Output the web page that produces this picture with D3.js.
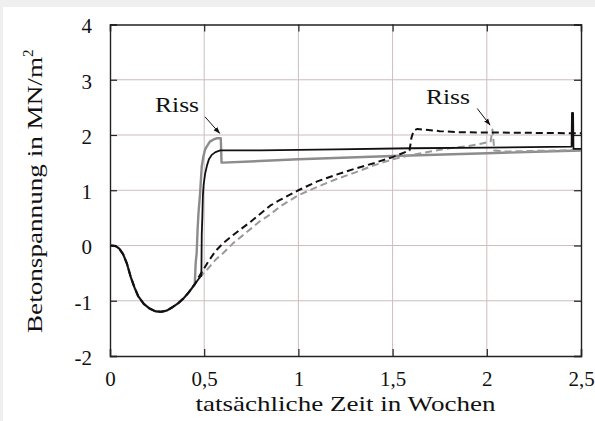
<!DOCTYPE html>
<html>
<head>
<meta charset="utf-8">
<script src="https://cdn.jsdelivr.net/npm/d3@7"></script>
<style>
  html, body { margin: 0; padding: 0; background: #efefef; }
  svg { display: block; }
  text { font-family: "Liberation Serif", "DejaVu Serif", serif; fill: #111; }
</style>
</head>
<body>
<div id="wrapper"></div>
<script>
// shared compression dip at early age (time in weeks, stress in MN/m2)
const dip = [[0,0],[0.03,-0.01],[0.05,-0.06],[0.07,-0.16],[0.09,-0.33],[0.11,-0.57],[0.13,-0.76],[0.15,-0.92],
  [0.18,-1.06],[0.21,-1.14],[0.24,-1.19],[0.27,-1.2],[0.3,-1.18],[0.33,-1.12],[0.36,-1.05],[0.39,-0.96],[0.42,-0.84],[0.45,-0.7]];

const graySolid = [[0.455,-0.3],[0.46,-0.14],[0.465,0.3],[0.47,0.6],[0.478,0.94],[0.487,1.43],[0.495,1.6],[0.504,1.73],
  [0.515,1.8],[0.53,1.88],[0.55,1.92],[0.566,1.94],[0.588,1.94],[0.592,1.5],[0.6,1.5],[1.0,1.56],[1.5,1.62],[2.0,1.67],[2.5,1.72]];

const blackSolid = [[0.48,-0.56],[0.485,-0.55],[0.487,0.2],[0.49,0.5],[0.493,0.9],[0.497,1.1],[0.505,1.3],[0.515,1.45],[0.525,1.56],
  [0.54,1.64],[0.56,1.69],[0.585,1.72],[0.8,1.72],[1.2,1.74],[1.6,1.76],[2.0,1.77],[2.45,1.79],[2.452,2.4],[2.458,2.4],[2.46,1.75],[2.5,1.75]];

const grayDashed = [[0.48,-0.56],[0.52,-0.42],[0.56,-0.26],[0.6,-0.14],[0.65,0.03],[0.7,0.17],[0.75,0.31],[0.8,0.45],[0.85,0.56],
  [0.9,0.7],[1.0,0.91],[1.1,1.06],[1.2,1.2],[1.3,1.32],[1.4,1.45],[1.5,1.56],[1.6,1.64],[1.7,1.7],[1.8,1.76],[1.9,1.8],[1.98,1.85],
  [2.02,1.88],[2.03,2.1],[2.04,1.72],[2.1,1.7],[2.5,1.73]];

const blackDashed = [[0.48,-0.52],[0.52,-0.3],[0.56,-0.1],[0.6,0.04],[0.65,0.18],[0.7,0.31],[0.75,0.44],[0.8,0.58],[0.85,0.72],
  [0.9,0.82],[1.0,1.0],[1.1,1.16],[1.2,1.28],[1.3,1.39],[1.4,1.49],[1.5,1.6],[1.575,1.7],[1.59,1.72],[1.6,1.95],[1.612,2.08],
  [1.632,2.11],[1.66,2.1],[1.75,2.07],[1.85,2.05],[2.2,2.04],[2.5,2.03]];

const xTicks = [0, 0.5, 1, 1.5, 2, 2.5];
const yTicks = [-2, -1, 0, 1, 2, 3, 4];

// "Riss" labels: text anchor point and arrow from -> to (data coords)
const rissLabels = [
  { tx: 0.356, ty: 2.42, from: [0.504, 2.33], to: [0.582, 2.03] },
  { tx: 1.794, ty: 2.56, from: [1.949, 2.48], to: [2.017, 2.18] }
];

const series = [
  { name: "graySolid", data: dip.concat(graySolid), color: "#8c8c8c", width: 2.4, dash: null },
  { name: "grayDashed", data: dip.concat(grayDashed), color: "#9a9a9a", width: 2, dash: "7,4" },
  { name: "blackDashed", data: dip.concat(blackDashed), color: "#111", width: 2, dash: "7,4" },
  { name: "blackSolid", data: dip.concat(blackSolid), color: "#111", width: 1.8, dash: null }
];

const dimensions = {
  width: 595,
  height: 421,
  margin: { top: 24.5, right: 14, bottom: 65, left: 110 }
};
dimensions.boundedWidth = dimensions.width - dimensions.margin.left - dimensions.margin.right;
dimensions.boundedHeight = dimensions.height - dimensions.margin.top - dimensions.margin.bottom;

const xScale = d3.scaleLinear().domain([0, 2.5]).range([0, dimensions.boundedWidth]);
const yScale = d3.scaleLinear().domain([-2, 4]).range([dimensions.boundedHeight, 0]);

const wrapper = d3.select("#wrapper").append("svg")
  .attr("width", dimensions.width)
  .attr("height", dimensions.height);

wrapper.append("rect")
  .attr("x", 3).attr("y", 7)
  .attr("width", dimensions.width - 3).attr("height", dimensions.height - 7)
  .attr("fill", "#fff");

const defs = wrapper.append("defs");
defs.append("marker")
  .attr("id", "arrow")
  .attr("viewBox", "0 0 10 10")
  .attr("refX", 9).attr("refY", 5)
  .attr("markerWidth", 7).attr("markerHeight", 7)
  .attr("orient", "auto")
  .append("path")
  .attr("d", "M0,1.5 L10,5 L0,8.5 Z")
  .attr("fill", "#111");

const bounds = wrapper.append("g")
  .attr("transform", `translate(${dimensions.margin.left},${dimensions.margin.top})`);

// grid
bounds.append("g").selectAll("line").data(xTicks.slice(1, -1)).join("line")
  .attr("x1", d => xScale(d)).attr("x2", d => xScale(d))
  .attr("y1", 0).attr("y2", dimensions.boundedHeight)
  .attr("stroke", "#cdbdbd").attr("stroke-width", 1);
bounds.append("g").selectAll("line").data(yTicks.slice(1, -1)).join("line")
  .attr("y1", d => yScale(d)).attr("y2", d => yScale(d))
  .attr("x1", 0).attr("x2", dimensions.boundedWidth)
  .attr("stroke", "#cdbdbd").attr("stroke-width", 1);

// axes with inward ticks on all four sides
const xAxisBottom = bounds.append("g")
  .attr("transform", `translate(0,${dimensions.boundedHeight})`)
  .call(d3.axisBottom(xScale).tickValues(xTicks).tickSize(-7).tickPadding(15)
    .tickFormat(d => String(d).replace(".", ",")));
const xAxisTop = bounds.append("g")
  .call(d3.axisTop(xScale).tickValues(xTicks).tickSize(-7).tickFormat(""));
const yAxisLeft = bounds.append("g")
  .call(d3.axisLeft(yScale).tickValues(yTicks).tickSize(-7).tickPadding(18)
    .tickFormat(d => String(d)));
const yAxisRight = bounds.append("g")
  .attr("transform", `translate(${dimensions.boundedWidth},0)`)
  .call(d3.axisRight(yScale).tickValues(yTicks).tickSize(-7).tickFormat(""));

[xAxisBottom, xAxisTop, yAxisLeft, yAxisRight].forEach(ax => {
  ax.select(".domain").attr("stroke", "#222").attr("stroke-width", 1.4);
  ax.selectAll(".tick line").attr("stroke", "#222").attr("stroke-width", 1.2);
  ax.selectAll("text").style("font-size", "21px").attr("fill", "#111");
});
yAxisLeft.selectAll("text").attr("dy", "0.4em");

// curves
const line = d3.line()
  .x(d => xScale(d[0]))
  .y(d => yScale(d[1]));

bounds.append("g").selectAll("path").data(series).join("path")
  .attr("d", d => line(d.data))
  .attr("fill", "none")
  .attr("stroke", d => d.color)
  .attr("stroke-width", d => d.width)
  .attr("stroke-dasharray", d => d.dash)
  .attr("stroke-linejoin", "round");

// annotations
const notes = bounds.append("g");
rissLabels.forEach(r => {
  const t = notes.append("text")
    .attr("x", xScale(r.tx)).attr("y", yScale(r.ty))
    .attr("text-anchor", "middle")
    .attr("textLength", 44).attr("lengthAdjust", "spacingAndGlyphs")
    .style("font-size", "22px")
    .text("Riss");
  const bb = t.node().getBBox();
  notes.insert("rect", "text")
    .attr("x", bb.x - 2).attr("y", bb.y + 2)
    .attr("width", bb.width + 4).attr("height", bb.height - 2)
    .attr("fill", "#fff");
  notes.append("line")
    .attr("x1", xScale(r.from[0])).attr("y1", yScale(r.from[1]))
    .attr("x2", xScale(r.to[0])).attr("y2", yScale(r.to[1]))
    .attr("stroke", "#111").attr("stroke-width", 1)
    .attr("marker-end", "url(#arrow)");
});

// axis labels
wrapper.append("text")
  .attr("x", dimensions.margin.left + dimensions.boundedWidth / 2)
  .attr("y", 411)
  .attr("text-anchor", "middle")
  .attr("textLength", 300).attr("lengthAdjust", "spacingAndGlyphs")
  .style("font-size", "21px")
  .text("tatsächliche Zeit in Wochen");

const yLabel = wrapper.append("text")
  .attr("transform", `translate(41.5,333) rotate(-90)`)
  .attr("text-anchor", "start")
  .style("font-size", "21px");
yLabel.append("tspan").attr("textLength", 276).attr("lengthAdjust", "spacingAndGlyphs")
  .text("Betonspannung in MN/m");
yLabel.append("tspan").attr("dy", "-0.6em").style("font-size", "15px").text("2");
</script>
</body>
</html>
